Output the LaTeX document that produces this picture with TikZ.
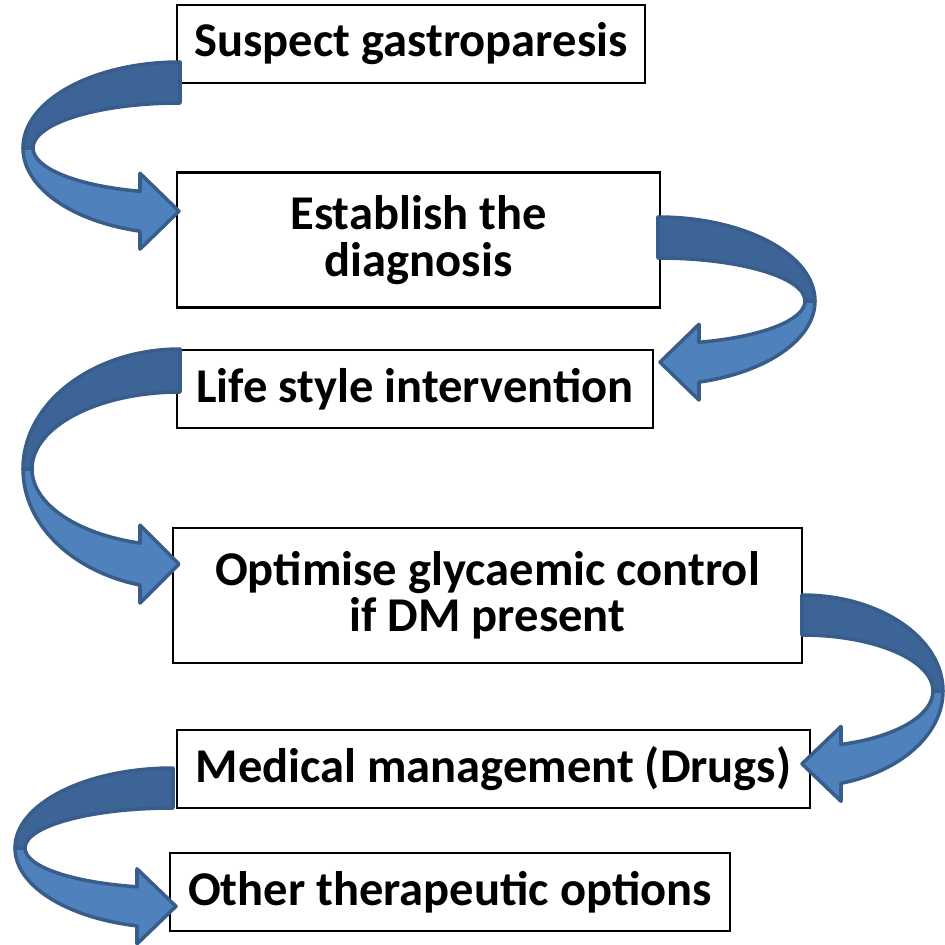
\documentclass[tikz,border=0pt]{standalone}
\usepackage{fontspec}
\setmainfont{Carlito}
\usetikzlibrary{calc}

\definecolor{ribbonline}{HTML}{385D8A}
\definecolor{ribbondark}{HTML}{3C6496}
\definecolor{ribbonlight}{HTML}{4F81BD}

% curved block arrow: #1 side (-1 left, 1 right), #2,#3 centre,
% #4,#5 outer radii, #6,#7 inner radii, #8 where the head starts
\newcommand{\bendarrow}[8]{%
  \pgfmathsetmacro{\angA}{90-90*#1}
  \pgfmathsetmacro{\angO}{\angA-#1*acos(#8/#4)}
  \pgfmathsetmacro{\angI}{\angA-#1*acos(#8/#6)}
  \pgfmathsetmacro{\tipdx}{-39*#1}
  \filldraw[ribbonback] (#2,#3) ++(90:#4 and #5)
    arc[start angle=90, end angle=\angA, x radius=#4, y radius=#5]
    -- ($(#2,#3)+(\angA:#6 and #7)$)
    arc[start angle=\angA, end angle=90, x radius=#6, y radius=#7] -- cycle;
  \path (#2,#3) ++(\angO:#4 and #5) coordinate (ho);
  \path (#2,#3) ++(\angI:#6 and #7) coordinate (hi);
  \filldraw[ribbonfront] ($(#2,#3)+(\angA:#4 and #5)$)
    arc[start angle=\angA, end angle=\angO, x radius=#4, y radius=#5]
    -- ++(0,-18) -- ($(ho)!0.5!(hi)+(\tipdx,0)$) -- ($(hi)+(0,18)$) -- (hi)
    arc[start angle=\angI, end angle=\angA, x radius=#6, y radius=#7] -- cycle;
}

\begin{document}
\begin{tikzpicture}[
  x=0.01cm, y=0.01cm,
  font=\bfseries\fontsize{13.8}{13.2}\selectfont,
  box/.style={draw, line width=0.6pt, fill=white, align=center, inner sep=0pt},
  ribbonback/.style={fill=ribbondark, draw=ribbonline, line width=1pt, line join=round},
  ribbonfront/.style={fill=ribbonlight, draw=ribbonline, line width=1pt, line join=round}
]
\useasboundingbox (0,0) rectangle (945,944);

\node[box, minimum width=4.68cm, minimum height=0.78cm] (suspect) at (411,900)
  {Suspect gastroparesis};
\node[box, minimum width=4.82cm, minimum height=1.35cm] (diagnosis) at (418.5,704)
  {Establish the\\diagnosis};
\node[box, minimum width=4.76cm, minimum height=0.78cm] (lifestyle) at (415,555)
  {Life style intervention};
\node[box, minimum width=6.29cm, minimum height=1.35cm] (glycaemic) at (487.5,348.5)
  {Optimise glycaemic control\\if DM present};
\node[box, minimum width=6.33cm, minimum height=0.78cm] (drugs) at (493.5,175)
  {Medical management (Drugs)};
\node[box, minimum width=5.60cm, minimum height=0.78cm] (options) at (450,52)
  {Other therapeutic options};

\bendarrow{-1}{180}{796}{157}{86}{147}{45}{40}
\bendarrow{1}{658}{643}{157}{84}{147}{43}{41}
\bendarrow{-1}{180}{475}{157}{120}{148}{77}{40}
\bendarrow{1}{802}{253}{141}{96}{131}{56}{39}
\bendarrow{-1}{173}{96}{158}{80}{148}{40}{36}

\end{tikzpicture}
\end{document}
